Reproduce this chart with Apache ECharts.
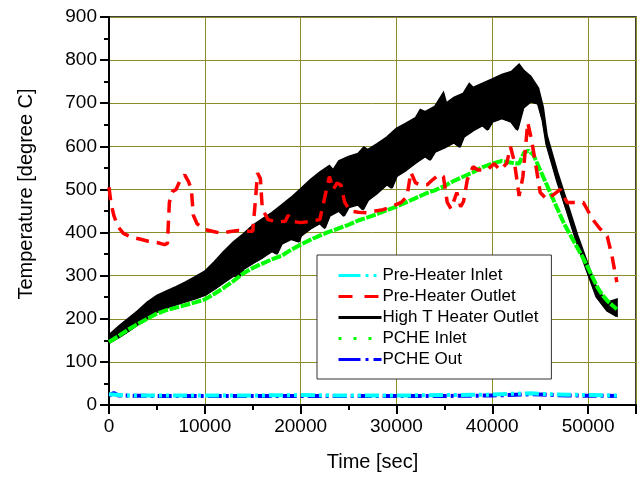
<!DOCTYPE html>
<html lang="en">
<head>
  <meta charset="UTF-8">
  <title>Temperature vs Time</title>
  <script src="https://cdn.jsdelivr.net/npm/echarts@6/dist/echarts.min.js"></script>
  <style>
    * { margin: 0; padding: 0; }
    body { background: #fff; }
    #chart { width: 643px; height: 477px; }
  </style>
</head>
<body>
  <div id="chart"></div>
  <script>
    // values: [time sec, temperature degC]
    const preHeaterInlet = [
      [0, 25], [2000, 22], [5000, 22], [10000, 22], [15000, 22], [20000, 23], [25000, 22],
      [30000, 22], [35000, 23], [40000, 24], [42000, 26], [44000, 27], [46000, 25],
      [48000, 24], [50000, 23], [53000, 22]
    ];
    const pcheOut = [
      [0, 22], [500, 28], [1000, 22], [5000, 21], [10000, 21], [15000, 21], [20000, 21],
      [25000, 21], [30000, 21], [35000, 21], [40000, 22], [44000, 25], [48000, 22], [53000, 21]
    ];
    const preHeaterOutlet = [
      [0, 505], [200, 470], [500, 440], [900, 415], [1500, 398], [2400, 389], [3200, 385],
      [4100, 380], [5000, 377], [5800, 372], [6100, 375], [6300, 470], [6600, 495], [7000, 500],
      [7400, 520], [7900, 534], [8300, 518], [8600, 500], [8800, 440], [9200, 420], [10000, 407],
      [11000, 402], [11800, 398], [12500, 402], [13500, 405], [14300, 403], [15000, 403],
      [15300, 480], [15500, 538], [15800, 525], [16000, 455], [16600, 430], [17500, 425],
      [18400, 426], [18700, 440], [19100, 426], [20000, 423], [21000, 426], [22000, 430],
      [22500, 480], [23000, 530], [23400, 500], [23800, 515], [24200, 510], [24600, 470],
      [25200, 450], [26000, 447], [26900, 446], [27800, 450], [28600, 453], [29500, 460],
      [30500, 470], [31100, 484], [31500, 540], [32000, 515], [32600, 510], [33200, 511],
      [33800, 523], [34500, 535], [34900, 530], [35300, 470], [35700, 455], [36300, 493],
      [36700, 460], [37000, 472], [37400, 523], [38000, 553], [38500, 545], [39500, 546],
      [40200, 560], [40800, 545], [41500, 560], [41900, 599], [42300, 565], [42800, 485],
      [43200, 530], [43700, 655], [44100, 615], [44500, 562], [45000, 493], [45700, 477],
      [46400, 488], [47100, 500], [47800, 470], [48800, 470], [49500, 470], [50000, 450],
      [50500, 430], [51200, 410], [52000, 391], [52500, 345], [53000, 285]
    ];
    // High T heater outlet oscillates fast: kept as lower and upper edge of the band
    const highTLower = [
      [0, 145], [1000, 158], [2000, 172], [3000, 188], [4000, 203], [5000, 217], [6000, 226],
      [7000, 234], [8000, 241], [9000, 248], [10000, 256], [11000, 270], [12000, 286],
      [13000, 301], [13600, 300], [14000, 316], [15000, 330], [16000, 343], [17000, 358],
      [17500, 352], [18000, 375], [19000, 386], [19800, 380], [20000, 393], [21000, 410],
      [22000, 423], [22500, 412], [23000, 440], [24000, 452], [24500, 440], [25000, 460],
      [26000, 466], [26500, 455], [27000, 476], [28000, 493], [29000, 513], [29500, 505],
      [30000, 532], [31000, 546], [32000, 563], [33000, 578], [33500, 570], [34000, 588],
      [35000, 598], [36000, 610], [36600, 600], [37000, 623], [38000, 638], [39000, 650],
      [39500, 640], [40000, 658], [41000, 666], [42000, 658], [42600, 640], [43200, 690],
      [44000, 705], [44800, 700], [45300, 660], [45700, 605], [46800, 520], [47800, 452],
      [48900, 375], [49900, 313], [50900, 252], [52000, 220], [53000, 207]
    ];
    const highTUpper = [
      [0, 162], [1000, 182], [2000, 200], [3000, 218], [4000, 238], [5000, 254], [6000, 264],
      [7000, 274], [8000, 285], [9000, 297], [10000, 310], [11000, 332], [12000, 356],
      [13000, 378], [14000, 396], [15000, 416], [16000, 431], [17000, 446], [18000, 463],
      [19000, 481], [20000, 501], [21000, 522], [22000, 540], [23000, 555], [23400, 545],
      [24000, 566], [25000, 576], [26000, 583], [26600, 598], [27000, 592], [28000, 606],
      [29000, 621], [30000, 641], [31000, 653], [32000, 666], [32500, 685], [33000, 680],
      [34000, 692], [34900, 724], [35200, 700], [36000, 713], [37000, 723], [37600, 745],
      [38000, 736], [39000, 746], [40000, 756], [41000, 766], [42000, 773], [42800, 790],
      [43300, 775], [44000, 762], [44800, 735], [45300, 690], [45700, 625], [46800, 540],
      [47800, 470], [48900, 393], [49900, 331], [50900, 270], [52000, 238], [53000, 245]
    ];
    const pcheInlet = [
      [0, 146], [1000, 160], [2000, 175], [3000, 188], [4000, 200], [5000, 212], [6000, 220],
      [7000, 226], [8000, 232], [9000, 238], [10000, 245], [11000, 258], [12000, 272],
      [13000, 288], [14000, 305], [15000, 318], [16000, 328], [17000, 338], [18000, 346],
      [19000, 360], [20000, 372], [21000, 383], [22000, 393], [23000, 402], [24000, 410],
      [25000, 418], [26000, 428], [27000, 435], [28000, 443], [29000, 452], [30000, 460],
      [31000, 470], [32000, 480], [33000, 490], [34000, 498], [35000, 508], [36000, 520],
      [37000, 530], [38000, 540], [39000, 552], [40000, 560], [41000, 566], [42000, 562],
      [42800, 560], [43300, 585], [43800, 590], [44300, 580], [45000, 545], [45500, 520],
      [46000, 495], [46500, 470], [47000, 445], [47500, 420], [48000, 400], [48500, 380],
      [49000, 360], [49500, 340], [50000, 318], [50500, 295], [51000, 272], [51500, 255],
      [52000, 242], [52500, 232], [53000, 222]
    ];

    const FONT = 'Liberation Sans, Arial, sans-serif';
    const GRID_COLOR = '#8c8c28';

    const chart = echarts.init(document.getElementById('chart'));

    function lineSeries(name, data, color, type, width) {
      return {
        name,
        type: 'line',
        data,
        symbol: 'none',
        silent: true,
        clip: true,
        lineStyle: { color, width, type, cap: 'butt' },
        itemStyle: { color }
      };
    }

    // legend samples use the picture's dash patterns
    const legendData = [
      { name: 'Pre-Heater Inlet', lineStyle: { color: '#00ffff', width: 3, type: [22, 5, 3, 5, 3, 5] } },
      { name: 'Pre-Heater Outlet', lineStyle: { color: '#ff0000', width: 3, type: [14, 12] } },
      { name: 'High T Heater Outlet', lineStyle: { color: '#000', width: 3, type: 'solid' } },
      { name: 'PCHE Inlet', lineStyle: { color: '#00ff00', width: 3, type: [3, 12] } },
      { name: 'PCHE Out', lineStyle: { color: '#0000ff', width: 3, type: [22, 5, 3, 5, 8] } }
    ];

    const option = {
      animation: false,
      textStyle: { fontFamily: FONT },
      grid: {
        left: 109, right: 7, top: 17, bottom: 71,
        show: true, borderColor: '#000', borderWidth: 1.5, backgroundColor: 'transparent'
      },
      legend: {
        data: legendData,
        orient: 'vertical',
        left: 317,
        top: 255,
        itemWidth: 43,
        itemHeight: 14,
        itemGap: 4,
        padding: [12, 13, 11, 20],
        borderColor: '#333',
        borderWidth: 1,
        borderRadius: 0,
        backgroundColor: '#fff',
        selectedMode: false,
        itemStyle: { opacity: 0 },
        textStyle: { color: '#000', fontSize: 17, fontFamily: FONT, padding: [0, 0, 0, -4] }
      },
      graphic: [{
        type: 'text',
        x: 26,
        y: 194,
        rotation: Math.PI / 2,
        style: {
          text: 'Temperature [degree C]',
          font: '20px ' + FONT,
          fill: '#000',
          align: 'center',
          verticalAlign: 'middle'
        }
      }],
      xAxis: {
        type: 'value',
        min: 0,
        max: 55000,
        interval: 10000,
        name: 'Time [sec]',
        nameLocation: 'middle',
        nameGap: 47,
        nameTextStyle: { color: '#000', fontSize: 20, fontFamily: FONT },
        axisLine: { lineStyle: { color: '#000', width: 2 } },
        axisTick: { inside: false, length: 9, lineStyle: { color: '#000', width: 2 } },
        minorTick: { show: true, splitNumber: 2, length: 5, lineStyle: { color: '#000', width: 2 } },
        axisLabel: {
          color: '#000', fontSize: 19, fontFamily: FONT, margin: 12, showMaxLabel: false,
          formatter: v => String(v)
        },
        splitLine: { show: true, lineStyle: { color: GRID_COLOR, width: 1 } }
      },
      yAxis: {
        type: 'value',
        min: 0,
        max: 900,
        interval: 100,
        axisLine: { show: true, lineStyle: { color: '#000', width: 2 } },
        axisTick: { show: true, inside: false, length: 9, lineStyle: { color: '#000', width: 2 } },
        minorTick: { show: true, splitNumber: 2, length: 5, lineStyle: { color: '#000', width: 2 } },
        axisLabel: { color: '#000', fontSize: 19, fontFamily: FONT, margin: 12, formatter: v => String(v) },
        splitLine: { show: true, lineStyle: { color: GRID_COLOR, width: 1 } }
      },
      series: [
        {
          name: 'High T band',
          type: 'custom',
          coordinateSystem: 'cartesian2d',
          silent: true,
          clip: true,
          data: [[0, 0]],
          renderItem: function (params, api) {
            const pts = highTUpper.map(p => api.coord(p))
              .concat(highTLower.slice().reverse().map(p => api.coord(p)));
            return {
              type: 'polygon',
              shape: { points: pts },
              style: { fill: '#000', stroke: '#000', lineWidth: 2, lineJoin: 'miter' }
            };
          }
        },
        lineSeries('High T Heater Outlet', highTLower, '#000', 'solid', 3),
        lineSeries('PCHE Out', pcheOut, '#0000ff', [14, 4, 3, 4], 4),
        lineSeries('Pre-Heater Inlet', preHeaterInlet, '#00ffff', [14, 4, 3, 4, 3, 4], 4),
        lineSeries('PCHE Inlet', pcheInlet, '#00ff00', [10, 1.5], 4),
        lineSeries('Pre-Heater Outlet', preHeaterOutlet, '#ff0000', [13, 8], 3.5)
      ]
    };

    chart.setOption(option);
  </script>
</body>
</html>
